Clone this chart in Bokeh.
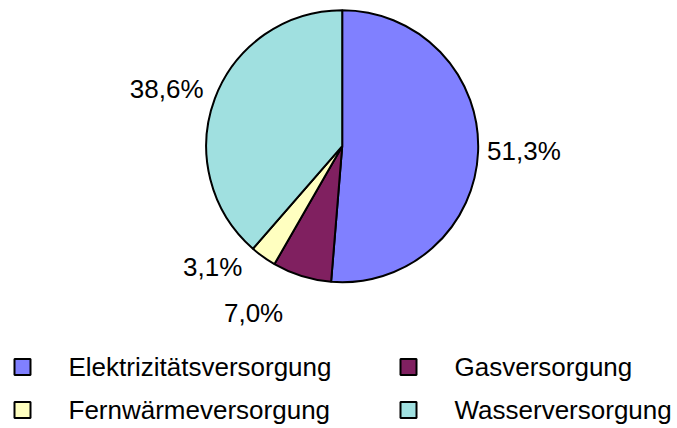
import math
from bokeh.plotting import figure
from bokeh.models import ColumnDataSource, Range1d
from bokeh.core.properties import value
from bokeh.embed import file_html
from bokeh.resources import INLINE

# ---- data ----
categories = ["Elektrizitätsversorgung", "Gasversorgung", "Fernwärmeversorgung", "Wasserversorgung"]
shares = [51.3, 7.0, 3.1, 38.6]
labels = ["51,3%", "7,0%", "3,1%", "38,6%"]
colors = ["#8080FF", "#802060", "#FFFFC0", "#A0E0E0"]

# ---- layout ----
W, H = 677, 428
FONT = value("Liberation Sans")
cx, cy = 341.7, 282.3     # pie centre (data units = pixels)
R = 136
label_dist = 148
# per-label nudges (pixels; x right, y up)
nudges = [(-3, 1), (-15, -25), (-14, 0), (0, 5)]

p = figure(width=W, height=H, output_backend="svg", toolbar_location=None,
           x_range=Range1d(0, W), y_range=Range1d(0, H), min_border=0)
p.axis.visible = False
p.grid.visible = False
p.outline_line_color = None
p.background_fill_color = "white"
p.border_fill_color = "white"

total = sum(shares)
starts, ends, lx, ly, align = [], [], [], [], []
acc = 0.0
for i, s in enumerate(shares):
    a0 = math.pi / 2 - 2 * math.pi * acc / total
    acc += s
    a1 = math.pi / 2 - 2 * math.pi * acc / total
    starts.append(a0)
    ends.append(a1)
    mid = (a0 + a1) / 2
    dx, dy = math.cos(mid), math.sin(mid)
    lx.append(cx + label_dist * dx + nudges[i][0])
    ly.append(cy + label_dist * dy + nudges[i][1])
    align.append("left" if dx > 0 else "right")

src = ColumnDataSource(dict(start=starts, end=ends, color=colors))
p.wedge(x=cx, y=cy, radius=R, start_angle="start", end_angle="end",
        direction="clock", fill_color="color", line_color="black",
        line_width=2, source=src)

lsrc = ColumnDataSource(dict(x=lx, y=ly, text=labels, align=align))
p.text(x="x", y="y", text="text", source=lsrc, text_align="align",
       text_baseline="middle", text_font=FONT, text_font_size="26px",
       text_color="black")

# legend (two columns, two rows)
col_sq = [22, 408]
col_tx = [68, 454]
row_y = [61.5, 18.5]
sx, sy, tx, ty = [], [], [], []
for i in range(len(categories)):
    r, c = divmod(i, 2)
    sx.append(col_sq[c]); sy.append(row_y[r])
    tx.append(col_tx[c]); ty.append(row_y[r])
p.rect(x=sx, y=sy, width=16, height=16, fill_color=colors,
       line_color="black", line_width=2)
p.text(x=tx, y=ty, text=categories, text_align="left", text_baseline="middle",
       text_font=FONT, text_font_size="26px", text_color="black")

open("out.html", "w").write(file_html(p, INLINE))
